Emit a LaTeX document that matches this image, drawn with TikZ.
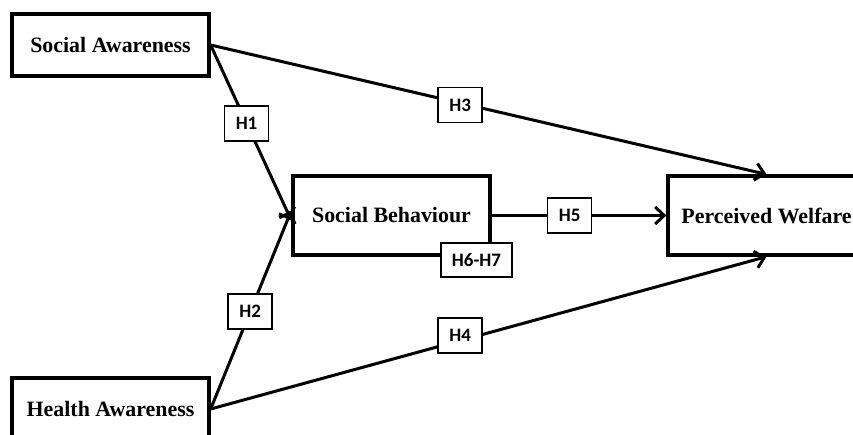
\documentclass[tikz,border=0pt]{standalone}
\usepackage{fontspec}
\setmainfont{Liberation Serif}
\newfontfamily\hfont{Carlito}
\usetikzlibrary{arrows.meta}
\begin{document}
\begin{tikzpicture}[x=1pt,y=-1pt,
  construct/.style={draw,line width=3.3pt,minimum width=197pt,minimum height=62pt,inner sep=0pt,
    font=\fontsize{21.9}{24}\selectfont\bfseries,fill=white},
  hyp/.style={draw,line width=1.8pt,minimum width=44pt,minimum height=35pt,inner sep=0pt,
    font=\hfont\fontsize{19}{22}\selectfont\bfseries,fill=white},
  link/.style={line width=3pt,-{Straight Barb[length=9pt,width=17pt]}},
  plain/.style={line width=3pt}]
\useasboundingbox (0,0) rectangle (853,434);
\clip (0,0) rectangle (853,434);
\node[construct] (SA) at (110.5,45) {Social Awareness};
\node[construct] (HA) at (110.5,409) {Health Awareness};
\node[construct,minimum height=79pt] (SB) at (391.5,215.5) {Social Behaviour};
\node[construct,minimum height=79pt] (PW) at (766.5,215.5) {Perceived Welfare};
% connectors
\draw[link] (SA.east) -- ([yshift=-5pt]SB.west) node[hyp,pos=0.445] {H1};
\draw[link] (HA.east) -- ([yshift=5pt]SB.west) node[hyp,pos=0.49] {H2};
\draw[link] (SA.east) -- (PW.north) node[hyp,pos=0.449,yshift=-2pt] {H3};
\draw[link] (HA.east) -- (PW.south) node[hyp,pos=0.449,yshift=5pt] {H4};
\draw[link] (SB.east) -- (PW.west) node[hyp,pos=0.446] {H5};
\node[hyp,minimum width=71pt,minimum height=34pt] (H67) at (476.5,260) {H6-H7};
\end{tikzpicture}
\end{document}
